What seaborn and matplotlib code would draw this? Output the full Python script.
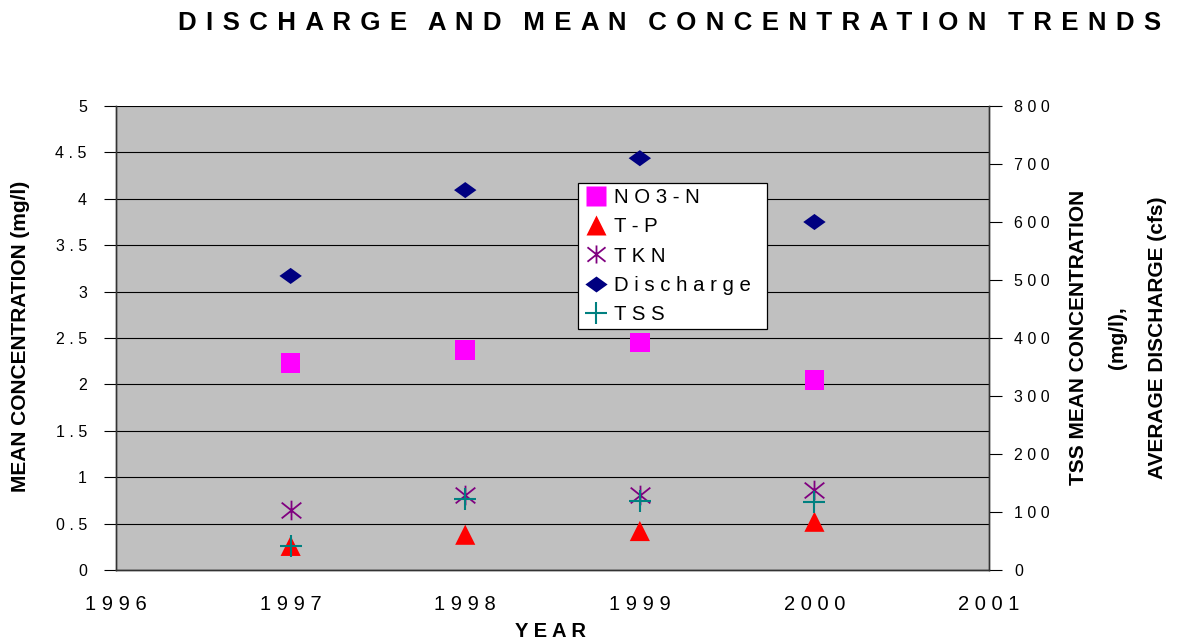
import matplotlib
matplotlib.use("Agg")
import matplotlib.pyplot as plt
import seaborn as sns
import pandas as pd
from matplotlib.path import Path
from matplotlib.lines import Line2D

# Data
years = [1997, 1998, 1999, 2000]
no3_n = [2.23, 2.37, 2.45, 2.05]
t_p = [0.26, 0.38, 0.42, 0.52]
tkn = [0.65, 0.81, 0.81, 0.86]
discharge = [507, 655, 710, 600]   # right axis, cfs
tss = [41, 122, 119, 117]          # right axis, mg/l

left_ticks = [0, 0.5, 1, 1.5, 2, 2.5, 3, 3.5, 4, 4.5, 5]
right_ticks = [0, 100, 200, 300, 400, 500, 600, 700, 800]
x_ticks = [1996, 1997, 1998, 1999, 2000, 2001]


def spaced(v, sep=" "):
    return sep.join(str(v))


sns.set_style("white")
plt.rcParams["font.family"] = ["Liberation Sans", "DejaVu Sans"]
plt.rcParams["text.color"] = "black"
plt.rcParams["axes.labelcolor"] = "black"
plt.rcParams["xtick.color"] = "black"
plt.rcParams["ytick.color"] = "black"

# asterisk marker: vertical stroke plus an X
asterisk = Path(
    [(0, -1), (0, 1), (-1, -0.8), (1, 0.8), (-1, 0.8), (1, -0.8)],
    [Path.MOVETO, Path.LINETO, Path.MOVETO, Path.LINETO, Path.MOVETO, Path.LINETO],
)
# slightly flattened diamond
diamond = Path([(0, 0.72), (1, 0), (0, -0.72), (-1, 0), (0, 0.72)],
               [Path.MOVETO, Path.LINETO, Path.LINETO, Path.LINETO, Path.CLOSEPOLY])

fig = plt.figure(figsize=(11.78, 6.44), dpi=100)
ax = fig.add_axes([0.0985, 0.1149, 0.7411, 0.7205])
ax.set_facecolor("#C0C0C0")
ax2 = ax.twinx()

df = pd.DataFrame({"year": years, "NO3-N": no3_n, "T-P": t_p, "TKN": tkn,
                   "Discharge": discharge, "TSS": tss})

sns.scatterplot(data=df, x="year", y="NO3-N", ax=ax, marker="s", s=200,
                color="#FF00FF", edgecolor="none", legend=False, zorder=3)
sns.scatterplot(data=df, x="year", y="T-P", ax=ax, marker="^", s=210,
                color="#FF0000", edgecolor="none", legend=False, zorder=3)
sns.scatterplot(data=df, x="year", y="TKN", ax=ax, marker=asterisk, s=200,
                color="#800080", edgecolor="#800080", linewidth=1.3,
                legend=False, zorder=3)
sns.scatterplot(data=df, x="year", y="Discharge", ax=ax2, marker=diamond, s=260,
                color="#000080", edgecolor="none", legend=False, zorder=3)
sns.scatterplot(data=df, x="year", y="TSS", ax=ax2, marker="+", s=230,
                color="#008080", linewidth=1.5, legend=False, zorder=3)

ax.set_xlim(1996, 2001)
ax.set_ylim(0, 5)
ax2.set_ylim(0, 800)

ax.set_yticks(left_ticks)
ax.set_yticklabels([spaced("%g" % t) for t in left_ticks], fontsize=11.5)
ax2.set_yticks(right_ticks)
ax2.set_yticklabels([spaced(t) for t in right_ticks], fontsize=11.5)
ax.set_xticks(x_ticks)
ax.set_xticklabels([spaced(t) for t in x_ticks], fontsize=14.5)

ax.grid(axis="y", color="black", linewidth=0.8)
ax.grid(axis="x", visible=False)
ax.set_axisbelow(True)

ax.tick_params(axis="y", direction="out", length=9, width=0.8, pad=12)
ax2.tick_params(axis="y", direction="out", length=9, width=0.8, pad=9)
ax.tick_params(axis="x", direction="out", length=5, width=0.8, pad=13)

for a in (ax, ax2):
    a.spines["top"].set_visible(False)
    for s in ("left", "right", "bottom"):
        a.spines[s].set_color("#333333")
        a.spines[s].set_linewidth(1.0)

ax.set_xlabel("")
ax.set_ylabel("")
ax2.set_ylabel("")
fig.text(0.467, 0.02, "Y E A R", ha="center", va="center",
         fontsize=14.5, fontweight="bold")
fig.text(0.017, 0.478, "MEAN CONCENTRATION (mg/l)", rotation=90,
         ha="center", va="center", fontsize=15, fontweight="bold")
fig.text(0.949, 0.476, "TSS MEAN CONCENTRATION\n(mg/l),\nAVERAGE DISCHARGE (cfs)",
         rotation=90, ha="center", va="center", fontsize=15, fontweight="bold",
         linespacing=2.35, multialignment="center")

title = "   ".join(spaced(w, " \u200a") for w in
                   ["DISCHARGE", "AND", "MEAN", "CONCENTRATION", "TRENDS"])
fig.text(0.568, 0.964, title, ha="center", va="center",
         fontsize=18.6, fontweight="bold")

handles = [
    Line2D([], [], linestyle="", marker="s", ms=14, color="#FF00FF", mec="none"),
    Line2D([], [], linestyle="", marker="^", ms=15, color="#FF0000", mec="none"),
    Line2D([], [], linestyle="", marker=asterisk, ms=13, color="#800080", mew=1.3),
    Line2D([], [], linestyle="", marker=diamond, ms=16, color="#000080", mec="none"),
    Line2D([], [], linestyle="", marker="+", ms=16, color="#008080", mew=1.5),
]
labels = ["N O 3 - N", "T - P", "T K N", "D i s c h a r g e  ", "T S S"]
leg = ax.legend(handles, labels, loc="upper left", bbox_to_anchor=(0.529, 0.834),
                borderaxespad=0, frameon=True, fancybox=False, framealpha=1,
                edgecolor="black", fontsize=14.7, handletextpad=0.2,
                borderpad=0.25, labelspacing=0.5, handlelength=1.3)
leg.get_frame().set_linewidth(0.9)
leg.set_zorder(10)

fig.savefig("out.png", dpi=100, facecolor="white")
